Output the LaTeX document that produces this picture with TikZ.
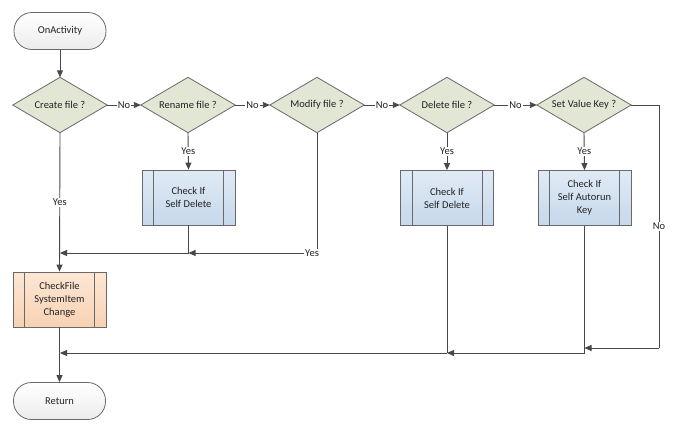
\documentclass[tikz,border=0pt]{standalone}
\usepackage{fontspec}
\setmainfont{Carlito}
\usetikzlibrary{arrows.meta,backgrounds}
\definecolor{lineC}{RGB}{72,72,72}
\definecolor{bordC}{RGB}{105,105,105}
\definecolor{decF}{RGB}{226,230,212}
\definecolor{blueT}{RGB}{224,234,245}
\definecolor{blueB}{RGB}{198,216,235}
\definecolor{orT}{RGB}{253,231,212}
\definecolor{orB}{RGB}{247,210,180}
\definecolor{termB}{RGB}{236,236,236}
\definecolor{textC}{RGB}{35,35,35}
\tikzset{
  term/.style={draw=bordC, line width=0.8pt, rounded corners=18pt, minimum width=92pt, minimum height=37pt, top color=white, bottom color=termB, text=textC, align=center},
  decbox/.style={minimum width=94pt, minimum height=55pt, inner sep=0pt, text=textC, align=center},
  decshape/.style={draw=bordC, line width=0.8pt, fill=decF},
  subbox/.style={draw=bordC, line width=0.8pt, minimum width=93pt, minimum height=55pt, top color=blueT, bottom color=blueB, text=textC, align=center, font=\fontsize{10.5}{13}\selectfont},
  subor/.style={subbox, top color=orT, bottom color=orB},
  innerln/.style={draw=bordC, line width=0.8pt},
  arr/.style={draw=lineC, line width=0.9pt, -{Triangle[length=7pt,width=6pt]}},
  ln/.style={draw=lineC, line width=0.9pt},
  lbl/.style={fill=white, inner sep=1pt, text=textC}
}
\begin{document}
\begin{tikzpicture}[x=1pt,y=-1pt,font=\fontsize{10.5}{12}\selectfont]
\useasboundingbox (0,0) rectangle (684,429);

% nodes
\node[term] (start) at (60,31) {OnActivity};
\node[decbox] (d1) at (60,105) {Create file ?};
\node[decbox] (d2) at (188,105) {Rename file ?};
\node[decbox] (d3) at (317,105) {Modify file ?};
\node[decbox] (d4) at (447,105) {Delete file ?};
\node[decbox] (d5) at (584,105) {Set Value Key ?};
\node[subbox] (p1) at (188.5,197.5) {Check If\\Self Delete};
\node[subbox] (p2) at (447,198) {Check If\\Self Delete};
\node[subbox] (p3) at (584.5,198) {Check If\\Self Autorun\\Key};
\node[subor] (p0) at (59.5,299.5) {CheckFile\\SystemItem\\Change};
\node[term] (ret) at (59.5,401) {Return};

\begin{scope}[on background layer]
  \fill[white] (0,0) rectangle (684,429);
  \foreach \d in {d1,d2,d3,d4,d5}{
    \path[decshape] (\d.north) -- (\d.east) -- (\d.south) -- (\d.west) -- cycle;
  }
\end{scope}
\foreach \p in {p0,p1,p2,p3}{
  \draw[innerln] ([xshift=12pt]\p.north west) -- ([xshift=12pt]\p.south west);
  \draw[innerln] ([xshift=-12pt]\p.north east) -- ([xshift=-12pt]\p.south east);
}

% helper coordinates
\coordinate (m1) at (188.5,253);
\coordinate (m0) at (60,253);
\coordinate (yc) at (312,253);
\coordinate (r1) at (659,105);
\coordinate (r2) at (659,348);
\coordinate (n3) at (584.5,348);
\coordinate (n3b) at (584.5,353);
\coordinate (n2) at (447,353);
\coordinate (n0) at (60,353);

% connectors
\draw[arr] (start) -- (d1.north);
\draw[arr] (d1.east) -- node[lbl]{No} (d2.west);
\draw[arr] (d2.east) -- node[lbl]{No} (d3.west);
\draw[arr] (d3.east) -- node[lbl]{No} (d4.west);
\draw[arr] (d4.east) -- node[lbl]{No} (d5.west);

\draw[arr] (d2.south) -- node[lbl]{Yes} (p1.north);
\draw[arr] (d4.south) -- node[lbl]{Yes} (p2.north);
\draw[arr] (d5.south) -- node[lbl]{Yes} (p3.north);
\draw[arr] (d1.south) -- node[lbl]{Yes} (p0.north);

\draw[ln] (d3.south) -- (d3.south |- yc) -- (yc);
\draw[arr] (yc) -- (m1);
\node[lbl] (yes3) at (312,253) {Yes};
\draw[ln] (p1.south) -- (m1);
\draw[arr] (m1) -- (m0);

\draw[ln] (d5.east) -- (r1) -- node[lbl]{No} (r2);
\draw[arr] (r2) -- (n3);
\draw[ln] (p3.south) -- (n3b);
\draw[arr] (n3b) -- (n2);
\draw[ln] (p2.south) -- (n2);
\draw[arr] (n2) -- (n0);

\draw[arr] (p0.south) -- (ret.north);
\end{tikzpicture}
\end{document}
